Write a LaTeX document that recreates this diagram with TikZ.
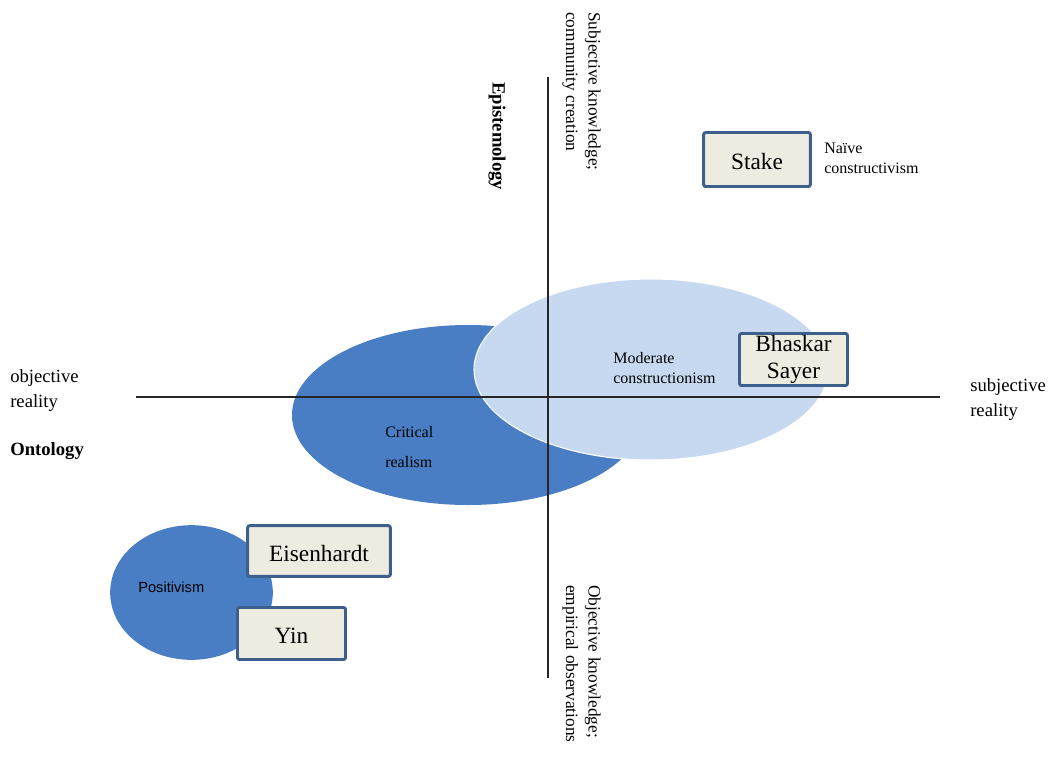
\documentclass[tikz,border=0pt]{standalone}
\usepackage{fontspec}
\setmainfont{Liberation Serif}
\newfontfamily\posfont{Liberation Sans}
\usetikzlibrary{shapes.geometric}

\definecolor{darkblue}{HTML}{4A7EC4}
\definecolor{paleblue}{HTML}{C6D9F1}
\definecolor{boxline}{HTML}{3D5F8C}
\definecolor{boxfill}{HTML}{EEECE1}

\tikzset{
  author/.style={draw=boxline, line width=2.2pt, fill=boxfill, rounded corners=1.5pt,
    inner sep=0pt, align=center, font=\fontsize{17.5}{20}\selectfont},
  oneline/.style={author, text height=15.5pt},
  blob/.style={ellipse, inner sep=0pt},
  caption/.style={inner sep=0pt, align=left, anchor=west},
  axis/.style={line width=0.8pt, draw=black!85}
}

\begin{document}
\begin{tikzpicture}[x=0.75pt, y=-0.75pt]
  % Fix the page size
  \useasboundingbox (0,0) rectangle (1052,761);

  % Draw the ellipses
  \node[blob, fill=darkblue, minimum width=264pt, minimum height=135pt] (critical) at (468,415) {};
  \node[blob, fill=paleblue, draw=white, line width=0.8pt, minimum width=265.5pt, minimum height=135.75pt] (moderate) at (651,369.5) {};
  \node[blob, fill=darkblue, minimum width=122pt, minimum height=101pt] (positivism) at (191.5,592.5) {};

  % Draw the axes
  \coordinate (west) at (136,397);
  \coordinate (east) at (940,397);
  \coordinate (north) at (548,77);
  \coordinate (south) at (548,678);
  \draw[axis] (west) -- (east);
  \draw[axis] (north) -- (south);

  % Axis texts
  \node[caption, font=\fontsize{14}{18.75}\selectfont] (objreal) at (10,391) {objective\\reality};
  \node[caption, font=\fontsize{14}{18.75}\selectfont\bfseries] (ontology) at (10,451) {Ontology};
  \node[caption, font=\fontsize{14}{18.75}\selectfont] (subjreal) at (970,400) {subjective\\reality};
  \node[caption, rotate=-90, font=\fontsize{13}{17}\selectfont] (subjknow) at (581.5,12) {Subjective knowledge;\\community creation};
  \node[caption, rotate=-90, font=\fontsize{14}{17}\selectfont\bfseries] (episte) at (497,82) {Epistemology};
  \node[caption, rotate=-90, font=\fontsize{13}{17}\selectfont] (objknow) at (581.5,585) {Objective knowledge;\\empirical observations};

  % Paradigm texts
  \node[caption, font=\fontsize{12}{15}\selectfont] (naive) at (824,158) {Naïve\\constructivism};
  \node[caption, font=\fontsize{12}{15}\selectfont] (modtext) at (613,368) {Moderate\\constructionism};
  \node[caption, font=\fontsize{12}{22}\selectfont] (crittext) at (385,447) {Critical\\realism};
  \node[caption, font=\posfont\fontsize{11}{13}\selectfont] (postext) at (138,587) {Positivism};

  % Author boxes
  \node[oneline, minimum width=80pt, minimum height=40.5pt] (stake) at (757,159.5) {Stake};
  \node[author, minimum width=81pt, minimum height=39pt] (bhaskar) at (793.5,359.5) {Bhaskar\\Sayer};
  \node[oneline, minimum width=107pt, minimum height=38pt] (eisen) at (319,551) {Eisenhardt};
  \node[oneline, minimum width=81pt, minimum height=39pt] (yin) at (291.5,633.5) {Yin};
\end{tikzpicture}
\end{document}
